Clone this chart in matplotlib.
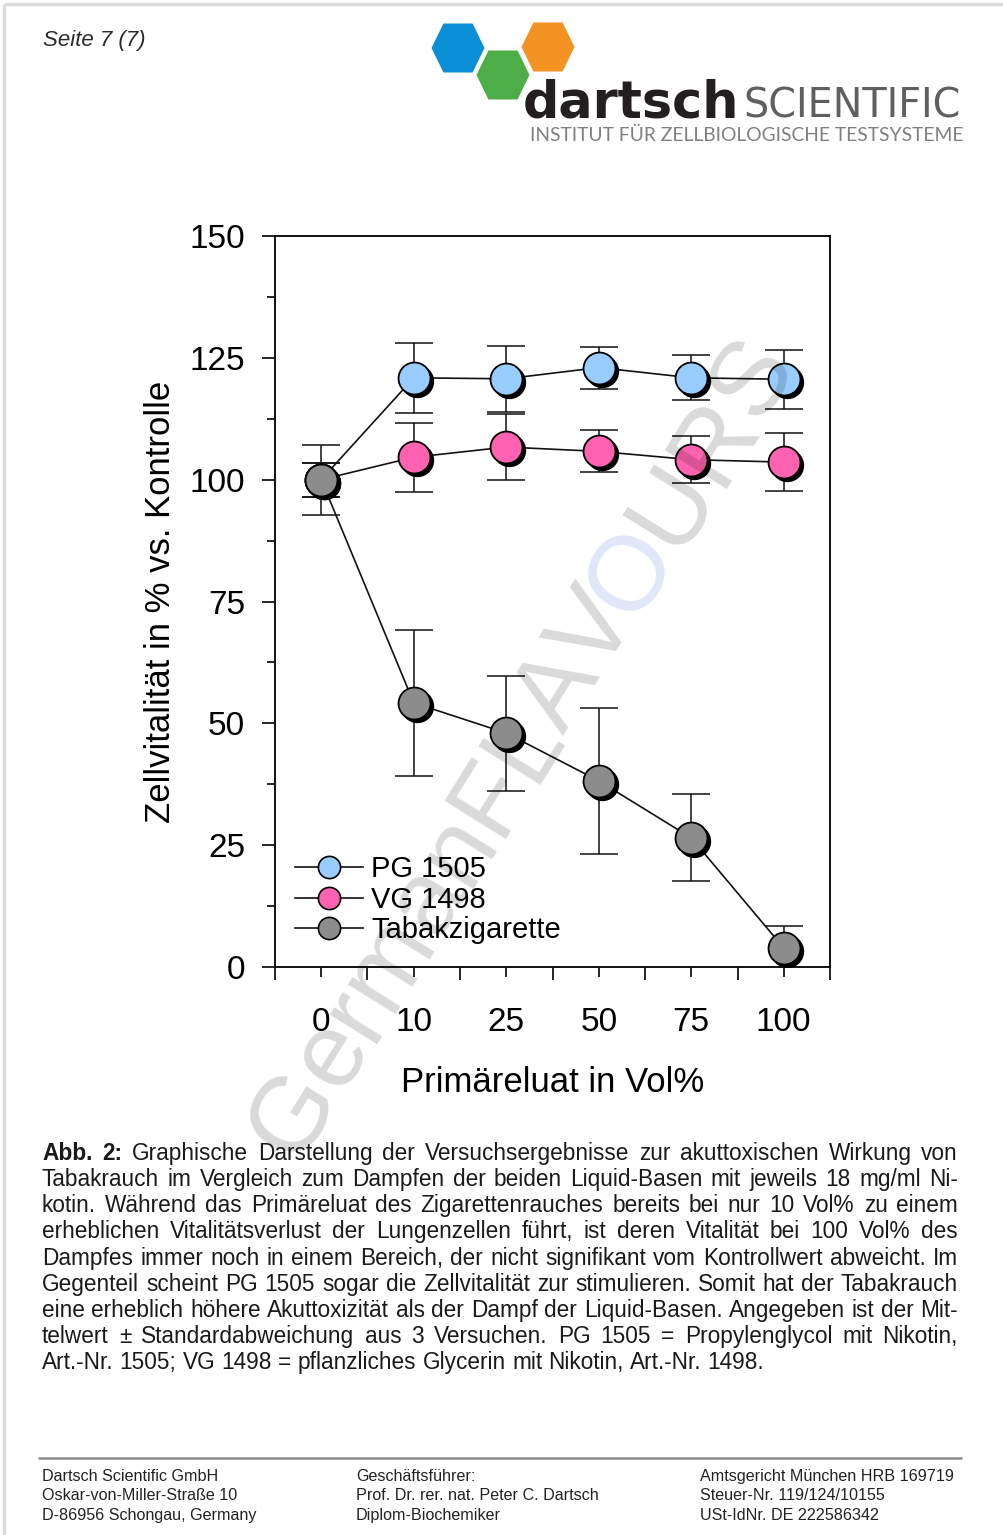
import numpy as np
import matplotlib
matplotlib.use('Agg')
import matplotlib.pyplot as plt
from matplotlib.patches import Polygon
from matplotlib.lines import Line2D
from matplotlib.transforms import ScaledTranslation

# ---------------- data ----------------
x_labels = ['0', '10', '25', '50', '75', '100']
pg_mean = [100, 120.9, 120.7, 123.0, 120.9, 120.6]
pg_err = [3.5, 7.2, 6.8, 4.3, 4.6, 6.0]
vg_mean = [100, 104.6, 106.7, 105.8, 104.1, 103.6]
vg_err = [3.5, 7.1, 6.8, 4.3, 4.8, 6.0]
tab_mean = [100, 54.2, 48.0, 38.2, 26.5, 3.9]
tab_err = [7.2, 15.0, 11.8, 15.0, 8.9, 4.5]
series_names = ['PG 1505', 'VG 1498', 'Tabakzigarette']
series_colors = ['#99CCFF', '#FF62B0', '#8C8C8C']
y_ticks = [0, 25, 50, 75, 100, 125, 150]

x_title = 'Primäreluat in Vol%'
y_title = 'Zellvitalität in % vs. Kontrolle'
page_label = 'Seite 7 (7)'
caption_lines = [
    'Abb. 2: Graphische Darstellung der Versuchsergebnisse zur akuttoxischen Wirkung von',
    'Tabakrauch im Vergleich zum Dampfen der beiden Liquid-Basen mit jeweils 18 mg/ml Ni-',
    'kotin. Während das Primäreluat des Zigarettenrauches bereits bei nur 10 Vol% zu einem',
    'erheblichen Vitalitätsverlust der Lungenzellen führt, ist deren Vitalität bei 100 Vol% des',
    'Dampfes immer noch in einem Bereich, der nicht signifikant vom Kontrollwert abweicht. Im',
    'Gegenteil scheint PG 1505 sogar die Zellvitalität zur stimulieren. Somit hat der Tabakrauch',
    'eine erheblich höhere Akuttoxizität als der Dampf der Liquid-Basen. Angegeben ist der Mit-',
    'telwert ± Standardabweichung aus 3 Versuchen. PG 1505 = Propylenglycol mit Nikotin,',
    'Art.-Nr. 1505; VG 1498 = pflanzliches Glycerin mit Nikotin, Art.-Nr. 1498.',
]
footer_cols = [
    ['Dartsch Scientific GmbH', 'Oskar-von-Miller-Straße 10', 'D-86956 Schongau, Germany'],
    ['Geschäftsführer:', 'Prof. Dr. rer. nat. Peter C. Dartsch', 'Diplom-Biochemiker'],
    ['Amtsgericht München HRB 169719', 'Steuer-Nr. 119/124/10155', 'USt-IdNr. DE 222586342'],
]
logo_main = 'dartsch'
logo_sub = 'SCIENTIFIC'
logo_tag = 'INSTITUT FÜR ZELLBIOLOGISCHE TESTSYSTEME'
watermark = 'GermanFLAVOURS'

# ---------------- figure ----------------
W, H = 1004, 1535
plt.rcParams['font.family'] = ['Liberation Sans', 'DejaVu Sans']
fig = plt.figure(figsize=(W / 100, H / 100), dpi=100)
renderer = fig.canvas.get_renderer()

page = fig.add_axes([0, 0, 1, 1], zorder=0)
page.set_xlim(0, W)
page.set_ylim(H, 0)
page.axis('off')


def width_of(t):
    return t.get_window_extent(renderer).width


def fit_text(axp, x, y, s, target_w, **kw):
    t = axp.text(x, y, s, fontsize=10, **kw)
    t.set_fontsize(10 * target_w / width_of(t))
    return t


# page frame (top and left edges)
page.plot([4, 4], [4, H], color='#DCDCDC', lw=2.5, solid_capstyle='butt')
page.plot([4, W], [4, 4], color='#DCDCDC', lw=2.5, solid_capstyle='butt')

page.text(43, 46, page_label, fontsize=16, style='italic', color='#2a2a2a',
          ha='left', va='baseline')

# logo hexagons
def hexagon(cx, cy, a, b, color):
    t = 0.55 * a
    verts = [(cx - a, cy), (cx - t, cy - b), (cx + t, cy - b),
             (cx + a, cy), (cx + t, cy + b), (cx - t, cy + b)]
    page.add_patch(Polygon(verts, closed=True, facecolor=color, edgecolor='none'))

hexagon(458, 48, 26.5, 24.5, '#0A8FD6')
hexagon(548, 47, 26.5, 24.5, '#F39323')
hexagon(503, 75, 26.5, 24.5, '#4DAE47')

fit_text(page, 523, 118, logo_main, 217, fontfamily=['DejaVu Sans'],
         fontweight='bold', color='#231F20', va='baseline')
fit_text(page, 743, 118, logo_sub, 217, fontfamily=['DejaVu Sans'],
         fontweight='normal', color='#5E5F61', va='baseline')
fit_text(page, 530, 141, logo_tag, 431, fontfamily=['Lato', 'Liberation Sans'],
         fontweight='normal', color='#808082', va='baseline')

# ---------------- chart ----------------
ax = fig.add_axes([275 / W, 1 - 967 / H, 555 / W, 731 / H], zorder=2)
x = np.arange(len(x_labels))
shadow_tr = ax.transData + ScaledTranslation(0.03, -0.03, fig.dpi_scale_trans)

all_means = [pg_mean, vg_mean, tab_mean]
all_errs = [pg_err, vg_err, tab_err]
for m, e, c in zip(all_means, all_errs, series_colors):
    ax.errorbar(x, m, yerr=e, fmt='none', ecolor='#111111', elinewidth=1.1,
                capsize=14, capthick=1.1, zorder=2)
    ax.plot(x, m, color='#111111', lw=1.2, zorder=2.5)
    ax.plot(x, m, ls='none', marker='o', ms=23, mfc='black', mec='black',
            transform=shadow_tr, zorder=3)
    ax.plot(x, m, ls='none', marker='o', ms=23, mfc=c, mec='black', mew=1.3, zorder=4)

ax.set_xlim(-0.5, 5.5)
ax.set_ylim(0, 150)
ax.set_xticks(np.arange(-0.5, 6.0, 1.0))
ax.set_xticks(x, labels=x_labels, minor=True)
ax.tick_params(axis='x', which='major', direction='out', length=9.5, width=1.2,
               labelbottom=False)
ax.tick_params(axis='x', which='minor', direction='out', length=7, width=1.2,
               labelsize=24, pad=22)
ax.set_yticks(y_ticks)
ax.set_yticks(np.arange(12.5, 150, 25), minor=True)
ax.tick_params(axis='y', which='major', direction='out', length=9.5, width=1.2,
               labelsize=24, pad=12)
ax.tick_params(axis='y', which='minor', direction='out', length=6, width=1.2)
for sp in ax.spines.values():
    sp.set_linewidth(1.4)
    sp.set_color('#111111')

ax.set_ylabel(y_title, fontsize=25, labelpad=9)
ax.set_xlabel(x_title, fontsize=25, labelpad=20)

handles = [Line2D([], [], color='#111111', lw=1.2, marker='o', ms=16, mfc=c,
                  mec='black', mew=1.2) for c in series_colors]
ax.legend(handles, series_names, loc='upper left', bbox_to_anchor=(0.0355, 0.153),
          frameon=False, fontsize=21, handlelength=2.33, handletextpad=0.3,
          labelspacing=0.09, borderpad=0, borderaxespad=0)

# ---------------- caption (justified) ----------------
cap_left, cap_right = 42, 958
cap_base0, cap_step = 1160, 26.15


def line_tokens(i, line):
    words = line.split(' ')
    return [(w, 'bold' if (i == 0 and k < 2) else 'normal') for k, w in enumerate(words)]

# font size so that the tightest line fits with normal word spacing
max_nat = 0
for i, line in enumerate(caption_lines[:-1]):
    t = page.text(0, 0, line, fontsize=10)
    max_nat = max(max_nat, width_of(t))
    t.remove()
cap_fs = 10 * (cap_right - cap_left) * 0.995 / max_nat

for i, line in enumerate(caption_lines):
    yb = cap_base0 + i * cap_step
    toks = line_tokens(i, line)
    texts = [page.text(0, yb, w, fontsize=cap_fs, fontweight=wt, color='#1a1a1a',
                       ha='left', va='baseline') for w, wt in toks]
    widths = [width_of(t) for t in texts]
    if i < len(caption_lines) - 1:
        gap = (cap_right - cap_left - sum(widths)) / (len(texts) - 1)
    else:
        sp = page.text(0, 0, 'a a', fontsize=cap_fs)
        sp2 = page.text(0, 0, 'aa', fontsize=cap_fs)
        gap = width_of(sp) - width_of(sp2)
        sp.remove(); sp2.remove()
    xc = cap_left
    for t, w in zip(texts, widths):
        t.set_x(xc)
        xc += w + gap

# ---------------- footer ----------------
page.plot([38, 962], [1458, 1458], color='#8A8A8A', lw=1.8, solid_capstyle='butt')
for col_x, col in zip([42, 356, 700], footer_cols):
    for j, s in enumerate(col):
        page.text(col_x, 1481 + j * 19.5, s, fontsize=11.65, color='#222222',
                  ha='left', va='baseline')

# ---------------- watermark overlay ----------------
top = fig.add_axes([0, 0, 1, 1], zorder=10)
top.set_xlim(0, W)
top.set_ylim(H, 0)
top.axis('off')
theta = np.deg2rad(58)
wm_len = 945
probe = top.text(0, 0, watermark, fontsize=10)
wm_fs = 10 * wm_len / width_of(probe)
probe.remove()
x0, y0 = 296, 1163
dirx, diry = np.cos(theta), -np.sin(theta)
for k, ch in enumerate(watermark):
    if k == 0:
        off = 0
    else:
        p = top.text(0, 0, watermark[:k], fontsize=wm_fs)
        off = width_of(p)
        p.remove()
    col = (0.25, 0.45, 0.85) if ch == 'O' else (0, 0, 0)
    al = 0.17 if ch == 'O' else 0.15
    top.text(x0 + off * dirx, y0 + off * diry, ch, fontsize=wm_fs, color=col, alpha=al,
             rotation=58, rotation_mode='anchor', ha='left', va='baseline')

fig.savefig('out.png', dpi=100)
